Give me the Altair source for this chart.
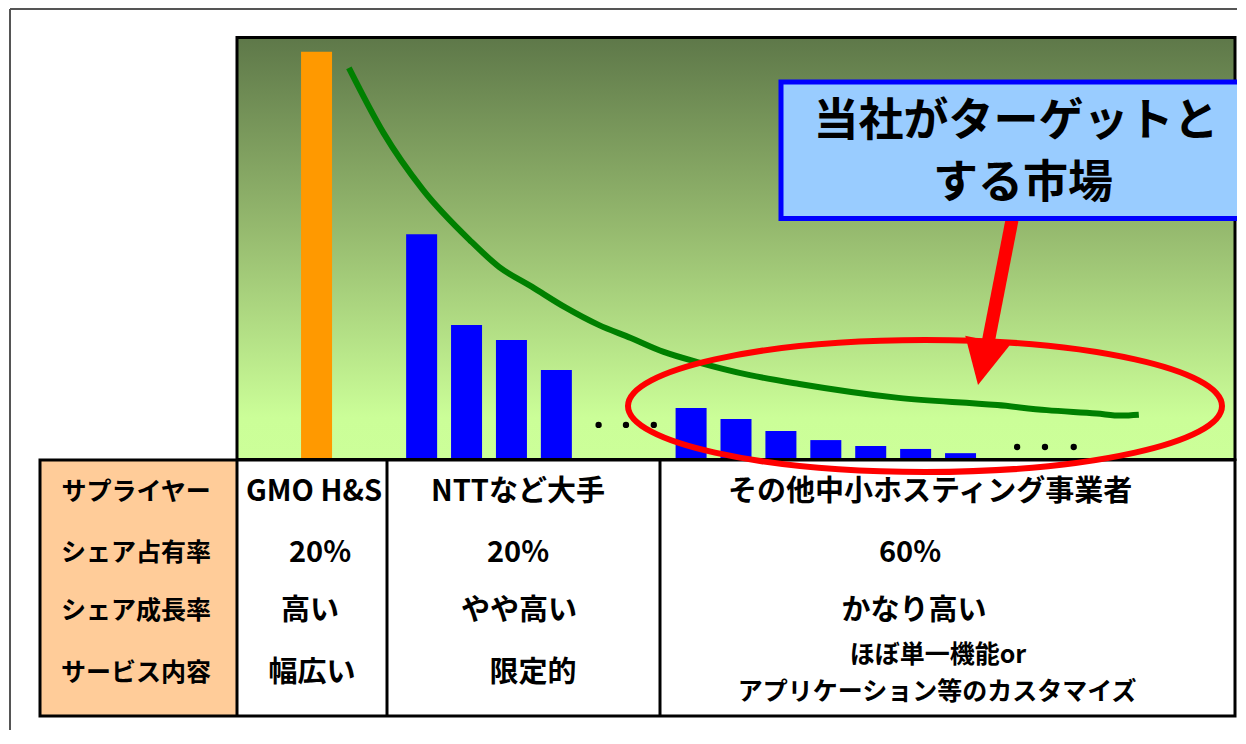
import altair as alt
import pandas as pd

# ---------------- data ----------------
BAR_LABELS = ["GMO H&S", "大手A", "大手B", "大手C", "大手D",
              "中小A", "中小B", "中小C", "中小D", "中小E", "中小F", "中小G"]
BAR_GROUPS = ["GMO H&S"] + ["NTTなど大手"] * 4 + ["その他中小ホスティング事業者"] * 7
BAR_SLOT = [1.66, 4, 5, 6, 7, 10, 11, 12, 13, 14, 15, 16]
BAR_SHARE = [96.6, 53.4, 31.9, 28.3, 21.2, 12.2, 9.6, 6.75, 4.6, 3.2, 2.5, 1.5]

DOT_SLOT = [7.94, 8.55, 9.17, 17.26, 17.88, 18.52]
DOT_LEVEL = [8.2, 8.2, 8.2, 2.96, 2.96, 2.96]

CURVE_SLOT = [2.38, 3.15, 4.03, 5.07, 5.73, 6.46, 7.19, 7.94, 8.66, 9.39,
              10.14, 11.31, 12.41, 14.62, 16.82, 17.92, 19.03, 19.58, 19.97]
CURVE_LEVEL = [92.8, 77.4, 63.9, 52.0, 45.6, 40.9, 36.1, 31.9, 28.8, 25.5,
               23.1, 20.0, 17.9, 14.6, 12.9, 11.7, 10.9, 10.4, 10.6]

ROW_LABELS = ["サプライヤー", "シェア占有率", "シェア成長率", "サービス内容"]
COL_GMO = ["GMO H&S", "20%", "高い", "幅広い"]
COL_NTT = ["NTTなど大手", "20%", "やや高い", "限定的"]
COL_OTHER = ["その他中小ホスティング事業者", "60%", "かなり高い",
             "ほぼ単一機能or\nアプリケーション等のカスタマイズ"]
CALLOUT = ["当社がターゲットと", "する市場"]

# ---------------- layout ----------------
FONT = "Noto Sans CJK JP"
W, H = 998, 422
X0, Y0 = 237, 37.5          # page position of the plot origin


def px(x):
    return x - X0


def py(y):
    return y - Y0


ONE = pd.DataFrame({"a": [0]})

xs = alt.Scale(domain=[0, 22], nice=False, zero=False)
ys = alt.Scale(domain=[0, 100], nice=False, zero=True)

grad = alt.Gradient(
    gradient="linear",
    stops=[alt.GradientStop(offset=0, color="#5E7849"),
           alt.GradientStop(offset=0.45, color="#95B96E"),
           alt.GradientStop(offset=0.9, color="#CBFE98"),
           alt.GradientStop(offset=1, color="#CCFF99")],
    x1=0, x2=0, y1=0, y2=1,
)

bg = alt.Chart(ONE).mark_rect(fill=grad).encode(
    x=alt.value(0), x2=alt.value(W), y=alt.value(0), y2=alt.value(H))

bar_df = pd.DataFrame({"label": BAR_LABELS, "group": BAR_GROUPS,
                       "slot": BAR_SLOT, "share": BAR_SHARE})
bars = alt.Chart(bar_df).mark_bar(size=31, orient="vertical").encode(
    x=alt.X("slot:Q", scale=xs, axis=None),
    y=alt.Y("share:Q", scale=ys, axis=None),
    color=alt.Color("group:N", legend=None,
                    scale=alt.Scale(domain=["GMO H&S", "NTTなど大手", "その他中小ホスティング事業者"],
                                    range=["#FF9900", "#0000FF", "#0000FF"])),
)

dot_df = pd.DataFrame({"slot": DOT_SLOT, "level": DOT_LEVEL})
dots = alt.Chart(dot_df).mark_circle(size=40, color="black", opacity=1).encode(
    x=alt.X("slot:Q", scale=xs, axis=None),
    y=alt.Y("level:Q", scale=ys, axis=None),
)

curve_df = pd.DataFrame({"slot": CURVE_SLOT, "level": CURVE_LEVEL})
curve = alt.Chart(curve_df).mark_line(color="#008000", strokeWidth=6,
                                      interpolate="monotone").encode(
    x=alt.X("slot:Q", scale=xs, axis=None),
    y=alt.Y("level:Q", scale=ys, axis=None),
)

border = alt.Chart(ONE).mark_rect(fillOpacity=0, stroke="black", strokeWidth=3).encode(
    x=alt.value(0), x2=alt.value(W), y=alt.value(0), y2=alt.value(H))

# table
T_LEFT, T_RIGHT, T_TOP, T_BOTTOM = 40, 1235, 460, 716
COL_LINES = [237, 387, 660]

peach = alt.Chart(ONE).mark_rect(fill="#FFCC99").encode(
    x=alt.value(px(T_LEFT)), x2=alt.value(px(COL_LINES[0])),
    y=alt.value(py(T_TOP)), y2=alt.value(py(T_BOTTOM)))
t_outline = alt.Chart(ONE).mark_rect(fillOpacity=0, stroke="black", strokeWidth=3).encode(
    x=alt.value(px(T_LEFT)), x2=alt.value(px(T_RIGHT)),
    y=alt.value(py(T_TOP)), y2=alt.value(py(T_BOTTOM)))
col_rules = [
    alt.Chart(ONE).mark_rule(color="black", strokeWidth=3).encode(
        x=alt.value(px(cx)), x2=alt.value(px(cx)),
        y=alt.value(py(T_TOP)), y2=alt.value(py(T_BOTTOM)))
    for cx in COL_LINES
]


def text_layer(s, x, y, size, color="black"):
    return alt.Chart(pd.DataFrame({"t": [s]})).mark_text(
        font=FONT, fontSize=size, fontWeight="bold", align="center",
        baseline="middle", color=color).encode(
        x=alt.value(px(x)), y=alt.value(py(y)), text="t:N")


ROW_Y = [492, 553, 611, 673]
texts = []
for i, s in enumerate(ROW_LABELS):
    texts.append(text_layer(s, 136, ROW_Y[i], 25))
GMO_X = [314, 320, 310, 312]
NTT_X = [518, 518, 519, 533]
OTH_X = [930, 910, 914, 938]
for i in range(4):
    texts.append(text_layer(COL_GMO[i], GMO_X[i], ROW_Y[i], 29))
    texts.append(text_layer(COL_NTT[i], NTT_X[i], ROW_Y[i], 29))
for i in range(3):
    texts.append(text_layer(COL_OTHER[i], OTH_X[i], ROW_Y[i], 29))
last_lines = COL_OTHER[3].split("\n")
texts.append(text_layer(last_lines[0], 938, 655, 25))
texts.append(text_layer(last_lines[1], 937, 692, 25))

# annotations
r = 66 / 297
k = 0.5523
ELLIPSE = (f"M-1,0 C-1,{-k*r:.4f} {-k:.4f},{-r:.4f} 0,{-r:.4f} "
           f"C{k:.4f},{-r:.4f} 1,{-k*r:.4f} 1,0 "
           f"C1,{k*r:.4f} {k:.4f},{r:.4f} 0,{r:.4f} "
           f"C{-k:.4f},{r:.4f} -1,{k*r:.4f} -1,0 Z")
ellipse = alt.Chart(ONE).mark_point(shape=ELLIPSE, size=(2 * 297) ** 2, filled=False,
                                    stroke="#FF0000", strokeWidth=6, opacity=1).encode(
    x=alt.value(px(925)), y=alt.value(py(406)))

shaft = alt.Chart(ONE).mark_rule(color="#FF0000", strokeWidth=13).encode(
    x=alt.value(px(1012)), y=alt.value(py(220)),
    x2=alt.value(px(988)), y2=alt.value(py(343)))
head = alt.Chart(ONE).mark_point(shape="M-1,-1L1,-1L0,1Z", size=2070, filled=True,
                                 color="#FF0000", opacity=1, angle=12).encode(
    x=alt.value(px(982.75)), y=alt.value(py(362.75)))

box = alt.Chart(ONE).mark_rect(fill="#99CCFF", stroke="#0000FF", strokeWidth=5).encode(
    x=alt.value(px(781)), x2=alt.value(px(1262)),
    y=alt.value(py(82)), y2=alt.value(py(218.5)))
callout = [text_layer(CALLOUT[0], 1016, 122, 45), text_layer(CALLOUT[1], 1023, 184, 45)]

frame_l = alt.Chart(ONE).mark_rule(color="#555555", strokeWidth=2).encode(
    x=alt.value(px(10)), x2=alt.value(px(10)), y=alt.value(py(9)), y2=alt.value(py(744)))
frame_t = alt.Chart(ONE).mark_rule(color="#555555", strokeWidth=2).encode(
    x=alt.value(px(10)), x2=alt.value(px(1250)), y=alt.value(py(9)), y2=alt.value(py(9)))

chart = alt.layer(
    bg, bars, dots, curve, border, peach, t_outline, *col_rules, *texts,
    ellipse, shaft, head, box, *callout, frame_l, frame_t,
).properties(
    width=W, height=H,
    autosize=alt.AutoSizeParams(type="none"),
    padding={"left": 229, "top": 29.5, "right": 2, "bottom": 270},
).configure_view(stroke=None).configure(background="white")

chart.save("out.html", embed_options={"renderer": "svg", "actions": False})
